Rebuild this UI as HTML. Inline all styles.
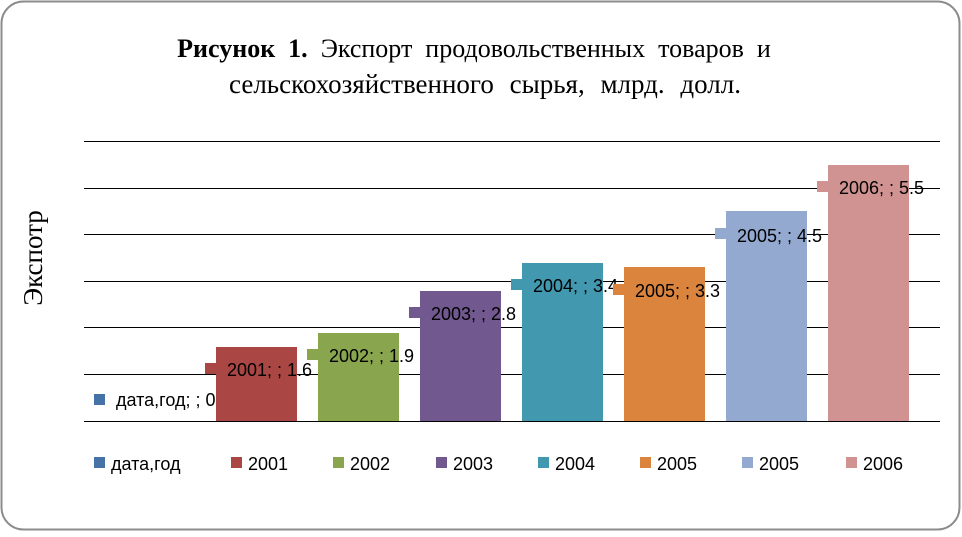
<!DOCTYPE html>
<html><head><meta charset="utf-8"><style>
body{margin:0;background:#fff;}
svg text{font-family:"Liberation Sans",sans-serif;}
</style></head><body>
<svg width="962" height="532" xmlns="http://www.w3.org/2000/svg">
<rect x="1.5" y="1.5" width="958" height="528" rx="22" fill="#fff" stroke="#8c8c8c" stroke-width="2"/>
<text x="474" y="57" text-anchor="middle" style="font-family:'Liberation Serif',serif;font-size:26px;word-spacing:6.5px"><tspan font-weight="bold">Рисунок 1.</tspan> Экспорт продовольственных товаров и</text>
<text x="485" y="93" text-anchor="middle" style="font-family:'Liberation Serif',serif;font-size:27px;word-spacing:9px">сельскохозяйственного сырья, млрд. долл.</text>
<text transform="translate(42,258) rotate(-90)" text-anchor="middle" style="font-family:'Liberation Serif',serif;font-size:27px">Экспотр</text>
<g stroke="#000" stroke-width="1">
<line x1="84" y1="141.5" x2="940" y2="141.5"/><line x1="84" y1="188.5" x2="940" y2="188.5"/>
<line x1="84" y1="234.5" x2="940" y2="234.5"/><line x1="84" y1="281.5" x2="940" y2="281.5"/>
<line x1="84" y1="327.5" x2="940" y2="327.5"/><line x1="84" y1="374.5" x2="940" y2="374.5"/>
<line x1="84" y1="421.5" x2="940" y2="421.5"/>
</g>
<rect x="216" y="347" width="81" height="74" fill="#AA4644"/>
<rect x="318" y="333" width="81" height="88" fill="#89A54E"/>
<rect x="420" y="291" width="81" height="130" fill="#71588F"/>
<rect x="522" y="263" width="81" height="158" fill="#4198AF"/>
<rect x="624" y="267" width="81" height="154" fill="#DB843D"/>
<rect x="726" y="211" width="81" height="210" fill="#93A9D0"/>
<rect x="828" y="165" width="81" height="256" fill="#D09392"/>
<g font-size="18" fill="#000">
<rect x="94" y="394" width="11" height="11" fill="#4572A7"/><text x="116" y="406">дата,год; ; 0</text>
<rect x="205" y="363" width="11" height="11" fill="#AA4644"/><text x="227" y="376">2001; ; 1.6</text>
<rect x="307" y="349" width="11" height="11" fill="#89A54E"/><text x="329" y="362">2002; ; 1.9</text>
<rect x="409" y="307" width="11" height="11" fill="#71588F"/><text x="431" y="320">2003; ; 2.8</text>
<rect x="511" y="279" width="11" height="11" fill="#4198AF"/><text x="533" y="292">2004; ; 3.4</text>
<rect x="613" y="284" width="11" height="11" fill="#DB843D"/><text x="635" y="297">2005; ; 3.3</text>
<rect x="715" y="228" width="11" height="11" fill="#93A9D0"/><text x="737" y="242">2005; ; 4.5</text>
<rect x="817" y="181" width="11" height="11" fill="#D09392"/><text x="839" y="194">2006; ; 5.5</text>
</g>
<g font-size="18" fill="#000">
<rect x="94" y="457" width="11" height="11" fill="#4572A7"/><text x="111" y="470">дата,год</text>
<rect x="231" y="457" width="11" height="11" fill="#AA4644"/><text x="248" y="470">2001</text>
<rect x="333" y="457" width="11" height="11" fill="#89A54E"/><text x="350" y="470">2002</text>
<rect x="436" y="457" width="11" height="11" fill="#71588F"/><text x="453" y="470">2003</text>
<rect x="538" y="457" width="11" height="11" fill="#4198AF"/><text x="555" y="470">2004</text>
<rect x="640" y="457" width="11" height="11" fill="#DB843D"/><text x="657" y="470">2005</text>
<rect x="742" y="457" width="11" height="11" fill="#93A9D0"/><text x="759" y="470">2005</text>
<rect x="846" y="457" width="11" height="11" fill="#D09392"/><text x="863" y="470">2006</text>
</g>
</svg>
</body></html>
